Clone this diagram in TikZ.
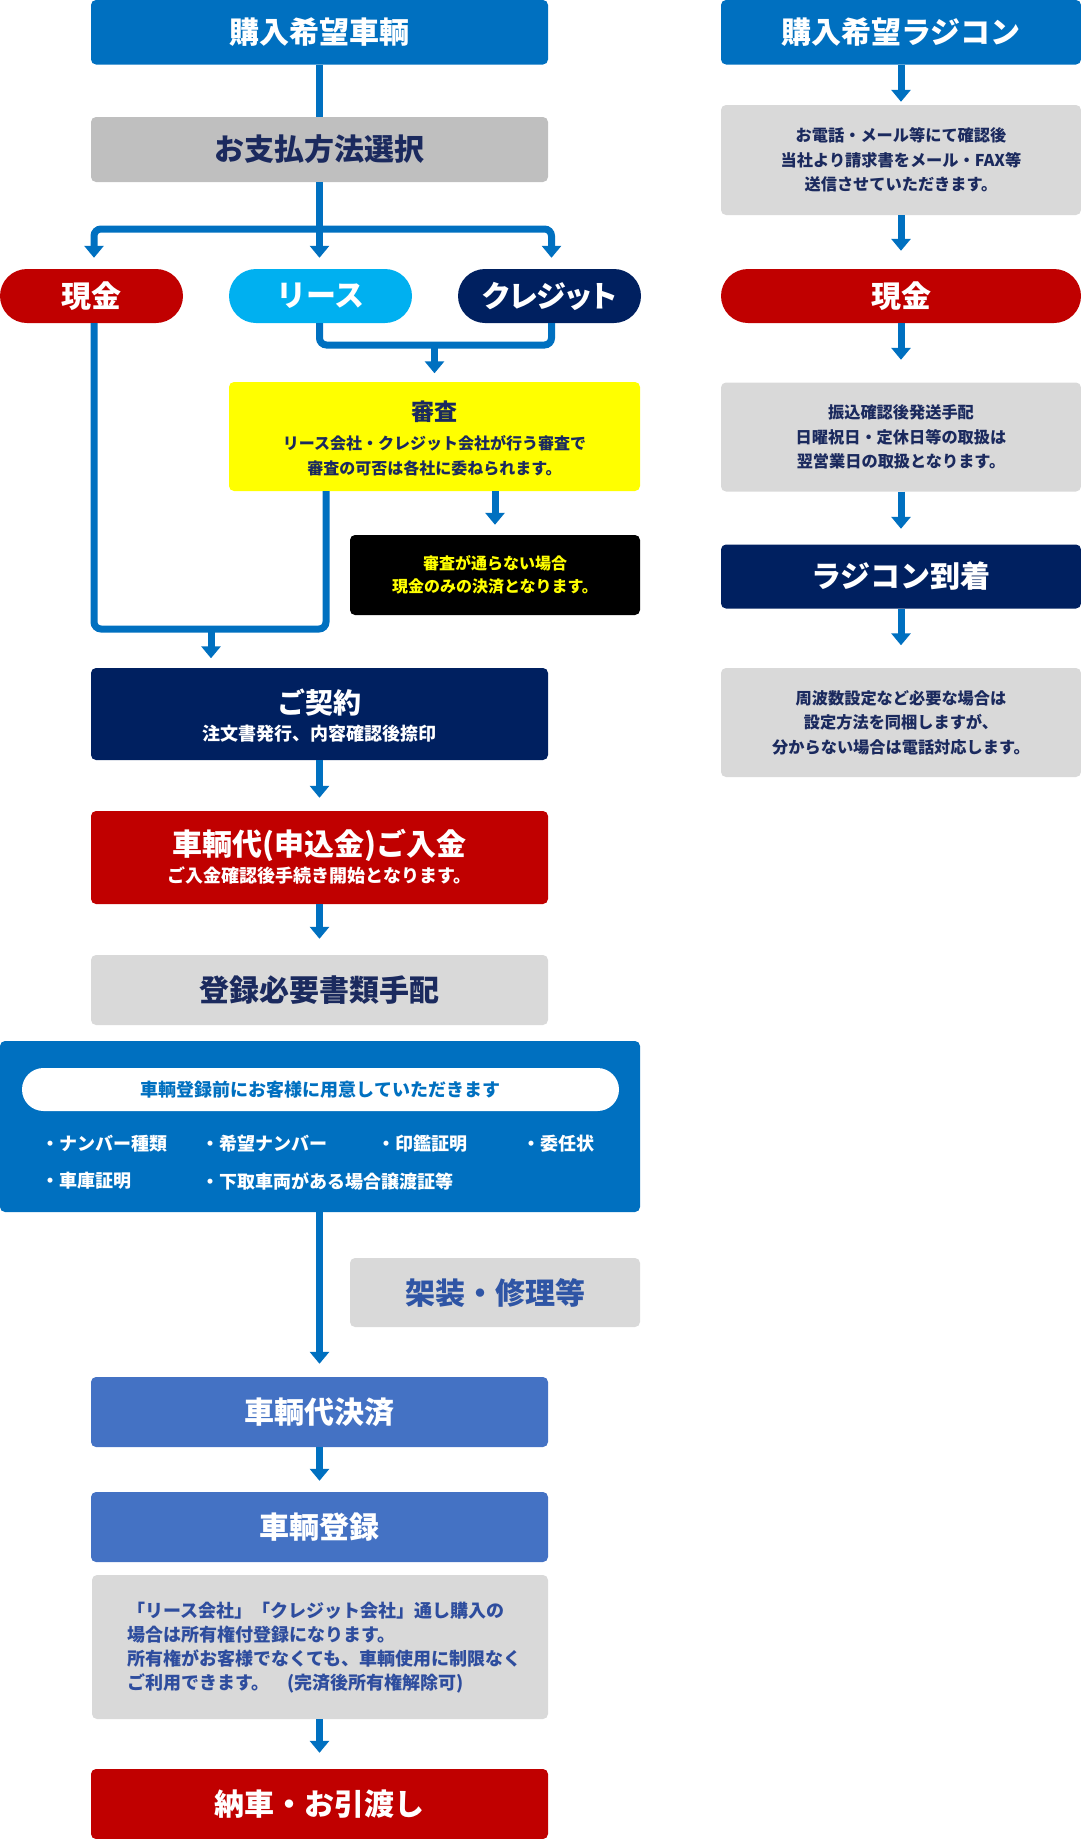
\documentclass[tikz,border=0pt]{standalone}
\usepackage{fontspec}
\setmainfont{Noto Sans CJK JP}
\usetikzlibrary{arrows.meta}
\definecolor{cblue}{HTML}{0070C0}
\definecolor{cgray}{HTML}{BFBFBF}
\definecolor{clgray}{HTML}{D9D9D9}
\definecolor{cred}{HTML}{C00000}
\definecolor{ccyan}{HTML}{00B0F0}
\definecolor{cnavy}{HTML}{002060}
\definecolor{cyel}{HTML}{FFFF00}
\definecolor{cmid}{HTML}{4472C4}
\definecolor{ctxt}{HTML}{1B2A5E}
\definecolor{ckaso}{HTML}{2F55A5}
\definecolor{cnote}{HTML}{2E4D9E}
\newcommand\fsTitle{\fontsize{30pt}{36pt}\selectfont}
\newcommand\fsSmall{\fontsize{16.2pt}{24.5pt}\selectfont}
\begin{document}
\begin{tikzpicture}[x=1pt,y=-1pt,
  base/.style={rounded corners=5pt, inner sep=0pt, align=center, font=\bfseries\fsTitle},
  lbox/.style={base, minimum width=457pt},
  rbox/.style={base, minimum width=360pt},
  pillbox/.style={base, rounded corners=27pt, minimum height=54pt, text=white},
  graybox/.style={base, fill=clgray, text=ctxt, font=\bfseries\fsSmall},
  txt/.style={inner sep=0pt, align=center},
  item/.style={inner sep=0pt, anchor=west, text=white, font=\bfseries\fontsize{18pt}{22pt}\selectfont},
  link/.style={draw=cblue, line width=7pt},
  arr/.style={link, -{Triangle[width=19pt,length=12pt]}}
]
\useasboundingbox (0,0) rectangle (1081,1839);

% ---------- left column ----------
\node[lbox, fill=cblue, text=white, minimum height=64.5pt] (t1) at (319.5,32.25) {購入希望車輌};
\node[lbox, fill=cgray, text=ctxt, minimum height=65pt] (pay) at (319.5,149.5) {お支払方法選択};

\node[pillbox, fill=cred, minimum width=183pt] (cash) at (91.5,296) {現金};
\node[pillbox, fill=ccyan, minimum width=183pt] (lease) at (320.5,296) {リース};
\node[pillbox, fill=cnavy, minimum width=183pt, font=\bfseries\fsTitle\addfontfeature{RawFeature=+palt}] (credit) at (549.5,296) {クレジット};

\node[base, fill=cyel, minimum width=411pt, minimum height=109pt] (shinsa) at (434.5,436.5) {};
\node[txt, text=ctxt, font=\bfseries\fontsize{23pt}{28pt}\selectfont] (shinsaT) at (434.5,411.7) {審査};
\node[txt, text=ctxt, font=\bfseries\fontsize{16pt}{25pt}\selectfont] (shinsaS) at (434.5,455.5) {リース会社・クレジット会社が行う審査で\\審査の可否は各社に委ねられます。};

\node[base, fill=black, text=cyel, minimum width=290pt, minimum height=80pt, font=\bfseries\fontsize{16pt}{23pt}\selectfont] (ng) at (495,575) {審査が通らない場合\\現金のみの決済となります。};

\node[lbox, fill=cnavy, minimum height=92pt] (contract) at (319.5,714) {};
\node[txt, text=white, font=\bfseries\fontsize{28pt}{32pt}\selectfont] (contractT) at (319.5,703) {ご契約};
\node[txt, text=white, font=\bfseries\fontsize{18pt}{22pt}\selectfont] (contractS) at (319.5,734) {注文書発行、内容確認後捺印};

\node[lbox, fill=cred, minimum height=93pt] (deposit) at (319.5,857.5) {};
\node[txt, text=white, font=\bfseries\fsTitle] (depositT) at (319.5,845) {車輌代(申込金)ご入金};
\node[txt, text=white, font=\bfseries\fontsize{18pt}{22pt}\selectfont] (depositS) at (319.5,875) {ご入金確認後手続き開始となります。};

\node[lbox, fill=clgray, text=ctxt, minimum height=70pt] (docs) at (319.5,990) {登録必要書類手配};

\node[base, fill=cblue, minimum width=640pt, minimum height=171pt] (bluebox) at (320,1126.5) {};
\node[base, fill=white, rounded corners=21.5pt, minimum width=597pt, minimum height=43pt, text=cblue, font=\bfseries\fontsize{18pt}{22pt}\selectfont] (need) at (320.5,1089.5) {車輌登録前にお客様に用意していただきます};
\node[item] (i1) at (41,1144) {・ナンバー種類};
\node[item] (i2) at (201,1144) {・希望ナンバー};
\node[item] (i3) at (377,1144) {・印鑑証明};
\node[item] (i4) at (522,1144) {・委任状};
\node[item] (i5) at (41,1181) {・車庫証明};
\node[item] (i6) at (201,1181) {・下取車両がある場合譲渡証等};

\node[base, fill=clgray, text=ckaso, minimum width=290pt, minimum height=69pt] (kaso) at (495,1292.5) {架装・修理等};

\node[lbox, fill=cmid, text=white, minimum height=70pt] (settle) at (319.5,1412) {車輌代決済};
\node[lbox, fill=cmid, text=white, minimum height=70pt] (reg) at (319.5,1527) {車輌登録};

\node[base, fill=clgray, minimum width=456pt, minimum height=144pt] (note) at (320,1647) {};
\node[inner sep=0pt, anchor=west, align=left, text=cnote, font=\bfseries\fontsize{18pt}{23.8pt}\selectfont] (noteT) at (127,1647.5) {「リース会社」「クレジット会社」通し購入の\\場合は所有権付登録になります。\\所有権がお客様でなくても、車輌使用に制限なく\\ご利用できます。　(完済後所有権解除可)};

\node[lbox, fill=cred, text=white, minimum height=70pt] (deliver) at (319.5,1804) {納車・お引渡し};

% ---------- right column ----------
\node[rbox, fill=cblue, text=white, minimum height=64.5pt] (r1) at (901,32.25) {購入希望ラジコン};
\node[graybox, minimum width=360pt, minimum height=110pt] (r2) at (901,160) {お電話・メール等にて確認後\\当社より請求書をメール・FAX等\\送信させていただきます。};
\node[pillbox, fill=cred, minimum width=360pt] (r3) at (901,296) {現金};
\node[graybox, minimum width=360pt, minimum height=109pt] (r4) at (901,437) {振込確認後発送手配\\日曜祝日・定休日等の取扱は\\翌営業日の取扱となります。};
\node[rbox, fill=cnavy, text=white, minimum height=64pt] (r5) at (901,576.5) {ラジコン到着};
\node[graybox, minimum width=360pt, minimum height=109pt] (r6) at (901,722.5) {周波数設定など必要な場合は\\設定方法を同梱しますが、\\分からない場合は電話対応します。};

% ---------- connectors ----------
\coordinate (bj) at (319.5,229);
\coordinate (lj) at (434.5,345);
\coordinate (mj) at (211,629);
\coordinate (sL) at (326,491);

\draw[link] (t1) -- (pay);
\draw[link] (pay.south) -- (bj);
\draw[arr, rounded corners=7pt, shorten >=11pt] (bj) -| ([xshift=2.5pt]cash.north);
\draw[arr, rounded corners=7pt, shorten >=11pt] (bj) -| ([xshift=2pt]credit.north);
\draw[arr, shorten >=11pt] (pay.south) -- (pay.south |- lease.north);

\draw[link, rounded corners=7pt] (lease.south -| pay.south) |- (lj) -| ([xshift=2pt]credit.south);
\draw[arr, shorten >=8.5pt] (lj) -- (shinsa.north);

\draw[arr, shorten >=10pt] (shinsa.south -| ng.north) -- (ng.north);

\draw[link, rounded corners=7pt] ([xshift=2.5pt]cash.south) |- (mj) -| (sL);
\draw[arr, shorten >=9.5pt] (mj) -- (mj |- contract.north);

\draw[arr, shorten >=13pt] (contract) -- (deposit);
\draw[arr, shorten >=16pt] (deposit) -- (docs);
\draw[arr, shorten >=13pt] (settle.north |- bluebox.south) -- (settle.north);
\draw[arr, shorten >=11pt] (settle) -- (reg);
\draw[arr, shorten >=16pt] (note.south -| deliver.north) -- (deliver.north);

\draw[arr, shorten >=3pt] (r1) -- (r2);
\draw[arr, shorten >=18pt] (r2) -- (r3);
\draw[arr, shorten >=22.5pt] (r3) -- (r4);
\draw[arr, shorten >=15.5pt] (r4) -- (r5);
\draw[arr, shorten >=22.5pt] (r5) -- (r6);
\end{tikzpicture}
\end{document}
